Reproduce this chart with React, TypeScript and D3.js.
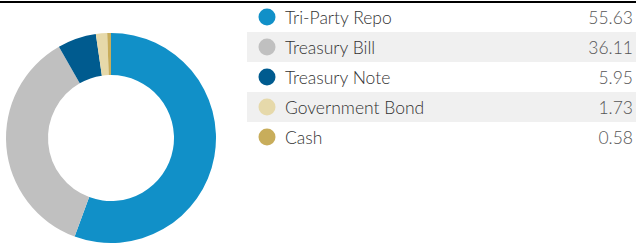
import React from "react";
import * as d3 from "d3";

const categories = ["Tri-Party Repo", "Treasury Bill", "Treasury Note", "Government Bond", "Cash"];
const values = [55.63, 36.11, 5.95, 1.73, 0.58];
const valueLabels = ["55.63", "36.11", "5.95", "1.73", "0.58"];
const colors = ["#1190C8", "#C0C0C0", "#005B8F", "#E6D9AA", "#C8AD5B"];

const W = 636;
const H = 244;

export default function App() {
  const cx = 111;
  const cy = 138;
  const outerR = 105;
  const innerR = 63;
  const pie = d3.pie<number>().sort(null).value((d) => d)(values);
  const arc = d3.arc<d3.PieArcDatum<number>>().innerRadius(innerR).outerRadius(outerR);

  const rowY = d3.scaleBand<number>().domain(d3.range(categories.length)).range([2, 152]);

  return (
    <svg
      width={W}
      height={H}
      style={{ position: "absolute", left: 0, top: 0, fontFamily: "Lato, sans-serif" }}
    >
      <rect x={0} y={1} width={W} height={2} fill="#000" />
      <g transform={`translate(${cx},${cy})`}>
        {pie.map((p, i) => (
          <path key={i} d={arc(p) || ""} fill={colors[i]} />
        ))}
      </g>
      {categories.map((c, i) => {
        const y0 = rowY(i)!;
        const h = rowY.bandwidth();
        const mid = y0 + h / 2;
        return (
          <g key={c}>
            {i % 2 === 1 && <rect x={247} y={y0} width={W - 247} height={h} fill="#F0F0F0" />}
            <circle cx={267} cy={mid} r={8.5} fill={colors[i]} />
            <text x={285} y={mid + 6.5} fontSize={17.5} fontWeight={300} fill="#333">
              {c}
            </text>
            <text x={633} y={mid + 6.5} fontSize={17.5} fontWeight={300} fill="#555" textAnchor="end">
              {valueLabels[i]}
            </text>
          </g>
        );
      })}
    </svg>
  );
}
